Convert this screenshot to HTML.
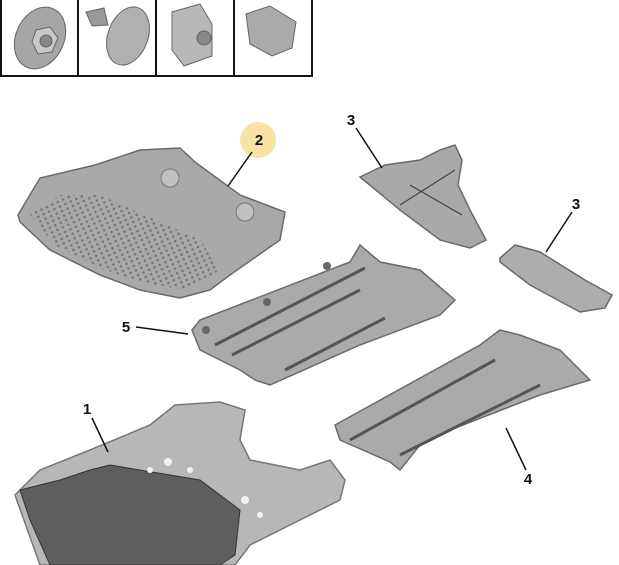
<!DOCTYPE html>
<html><head><style>
html,body{margin:0;padding:0;background:#fff;}
svg{display:block;font-family:"Liberation Sans",Arial,sans-serif;}
</style></head><body>
<svg width="619" height="565" viewBox="0 0 619 565" xmlns="http://www.w3.org/2000/svg">
<defs>
<pattern id="dots" width="6" height="5" patternUnits="userSpaceOnUse" patternTransform="rotate(-25)">
<circle cx="3" cy="2.5" r="1.3" fill="#6a6a6a"/>
</pattern>
</defs>
<rect width="619" height="565" fill="#fff"/>
<!-- fastener boxes -->
<g stroke="#111" stroke-width="2" fill="none">
<rect x="1" y="-2" width="311" height="78"/>
<line x1="78" y1="0" x2="78" y2="76"/><line x1="156" y1="0" x2="156" y2="76"/><line x1="234" y1="0" x2="234" y2="76"/>
</g>
<g fill="#a6a6a6" stroke="#666" stroke-width="1">
<ellipse cx="40" cy="38" rx="24" ry="32" transform="rotate(25 40 38)"/>
<polygon points="36,30 50,27 58,38 52,52 38,54 32,42" fill="#c8c8c8"/>
<circle cx="46" cy="41" r="6" fill="#888"/>
<polygon points="86,12 104,8 108,25 92,26" fill="#999"/>
<ellipse cx="128" cy="36" rx="20" ry="30" transform="rotate(20 128 36)" fill="#b0b0b0"/>
<polygon points="172,12 200,4 212,24 212,56 184,66 172,50" fill="#b8b8b8"/>
<circle cx="204" cy="38" r="7" fill="#888"/>
<polygon points="246,14 270,6 296,22 292,48 272,56 250,44" fill="#aaa"/>
</g>
<!-- part 2 -->
<polygon points="18,215 40,178 95,165 140,150 180,148 195,162 240,195 285,212 280,240 230,275 210,290 180,298 140,290 100,275 50,250 20,222" fill="#a9a9a9" stroke="#6a6a6a" stroke-width="1.5"/>
<polygon points="30,215 60,195 100,195 200,240 220,270 185,290 140,282 100,268 55,245" fill="url(#dots)" opacity="0.8"/>
<circle cx="170" cy="178" r="9" fill="#c0c0c0" stroke="#777"/>
<circle cx="245" cy="212" r="9" fill="#c0c0c0" stroke="#777"/>
<!-- part 3a -->
<polygon points="360,177 385,165 420,160 440,150 455,145 462,160 458,185 470,210 486,240 470,248 440,240 400,210" fill="#a9a9a9" stroke="#6a6a6a" stroke-width="1.5"/>
<g stroke="#444" stroke-width="1.2" fill="none"><line x1="400" y1="205" x2="455" y2="170"/><line x1="410" y1="185" x2="462" y2="215"/></g>
<!-- part 3b -->
<polygon points="500,258 515,245 540,252 585,280 612,295 605,308 580,312 530,285 500,262" fill="#adadad" stroke="#6a6a6a" stroke-width="1.5"/>
<!-- part 5 -->
<polygon points="192,330 200,320 350,262 360,245 380,262 420,270 455,300 440,315 360,345 270,385 255,380 240,370 200,350" fill="#aaaaaa" stroke="#6a6a6a" stroke-width="1.5"/>
<g stroke="#555" stroke-width="3"><line x1="215" y1="345" x2="365" y2="268"/><line x1="232" y1="355" x2="360" y2="290"/><line x1="285" y1="370" x2="385" y2="318"/></g>
<g fill="#666"><circle cx="206" cy="330" r="4"/><circle cx="267" cy="302" r="4"/><circle cx="327" cy="266" r="4"/></g>
<!-- part 4 -->
<polygon points="335,425 480,345 500,330 520,335 560,350 590,380 540,395 450,430 420,445 400,470 390,462 340,440" fill="#aaaaaa" stroke="#6a6a6a" stroke-width="1.5"/>
<g stroke="#555" stroke-width="3"><line x1="350" y1="440" x2="495" y2="360"/><line x1="400" y1="455" x2="540" y2="385"/></g>
<!-- part 1 -->
<polygon points="90,450 150,425 175,405 220,402 245,410 240,440 250,460 300,470 330,460 345,480 340,500 300,520 250,545 235,565 40,565 15,495 40,470" fill="#b7b7b7" stroke="#777" stroke-width="1.5"/>
<polygon points="20,490 60,480 90,470 110,465 200,480 240,510 235,555 220,565 50,565 30,520" fill="#5e5e5e" stroke="#333" stroke-width="1"/>
<g fill="#f2f2f2"><circle cx="168" cy="462" r="4"/><circle cx="150" cy="470" r="3"/><circle cx="190" cy="470" r="3"/><circle cx="245" cy="500" r="4"/><circle cx="260" cy="515" r="3"/></g>
<!-- labels -->
<circle cx="258" cy="140" r="18" fill="#f7e3a3"/>
<g stroke="#111" stroke-width="1.5">
<line x1="252" y1="152" x2="228" y2="186"/>
<line x1="356" y1="128" x2="382" y2="168"/>
<line x1="572" y1="212" x2="546" y2="252"/>
<line x1="136" y1="327" x2="188" y2="334"/>
<line x1="92" y1="418" x2="108" y2="452"/>
<line x1="526" y1="470" x2="506" y2="428"/>
</g>
<g font-weight="bold" font-size="15" fill="#111" text-anchor="middle">
<text x="259" y="145">2</text>
<text x="351" y="125">3</text>
<text x="576" y="209">3</text>
<text x="126" y="332">5</text>
<text x="87" y="414">1</text>
<text x="528" y="484">4</text>
</g>
</svg>
</body></html>
